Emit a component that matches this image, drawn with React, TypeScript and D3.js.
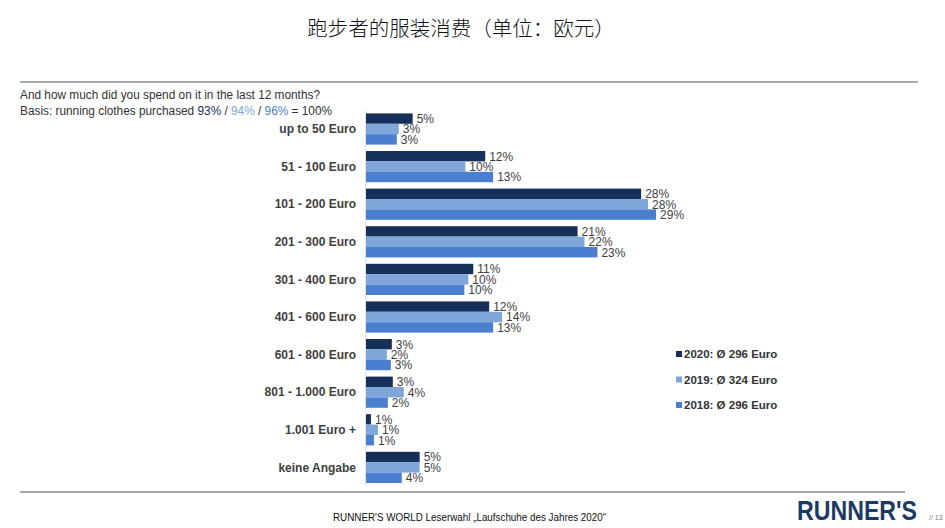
import React from "react";
import * as d3 from "d3";

const categories = [
  "up to 50 Euro",
  "51 - 100 Euro",
  "101 - 200 Euro",
  "201 - 300 Euro",
  "301 - 400 Euro",
  "401 - 600 Euro",
  "601 - 800 Euro",
  "801 - 1.000 Euro",
  "1.001 Euro +",
  "keine Angabe",
];

// shares in % (labels are rounded)
const values2020 = [4.7, 12.0, 27.7, 21.3, 10.8, 12.4, 2.6, 2.7, 0.5, 5.4];
const values2019 = [3.3, 10.0, 28.4, 22.0, 10.3, 13.7, 2.1, 3.8, 1.2, 5.4];
const values2018 = [3.1, 12.8, 29.2, 23.3, 9.9, 12.8, 2.5, 2.2, 0.8, 3.6];

const seriesNames = ["2020", "2019", "2018"];
const seriesColors = ["#17305a", "#7ea6d8", "#4a7fcf"];
const legendLabels = ["2020: Ø 296 Euro", "2019: Ø 324 Euro", "2018: Ø 296 Euro"];

const W = 945;
const H = 528;
const FONT = "'Liberation Sans', Arial, sans-serif";

export default function App() {
  const series = [values2020, values2019, values2018];

  const y = d3
    .scaleBand<string>()
    .domain(categories)
    .range([110.2, 486.2])
    .paddingInner(0.17)
    .paddingOuter(0.085);

  const ySub = d3
    .scaleBand<string>()
    .domain(seriesNames)
    .range([0, y.bandwidth()]);

  const x = d3.scaleLinear().domain([0, 30]).range([366, 664]);

  return (
    <svg
      width={W}
      height={H}
      viewBox={`0 0 ${W} ${H}`}
      style={{ position: "absolute", left: 0, top: 0, background: "#fff" }}
      fontFamily={FONT}
    >
      <text
        x={461}
        y={36}
        textAnchor="middle"
        fontSize={20.5}
        fontWeight={300}
        fill="#111"
        fontFamily="'Noto Sans CJK SC', sans-serif"
      >
        跑步者的服装消费（单位：欧元）
      </text>

      <line x1={20} x2={918} y1={82} y2={82} stroke="#555" strokeWidth={1.2} />

      <text x={20} y={99} fontSize={12.5} fill="#333" textLength={300} lengthAdjust="spacingAndGlyphs">
        And how much did you spend on it in the last 12 months?
      </text>
      <text x={20} y={115} fontSize={12.5} fill="#333" textLength={312} lengthAdjust="spacingAndGlyphs">
        Basis: running clothes purchased{" "}
        <tspan fill={seriesColors[0]}>93%</tspan> /{" "}
        <tspan fill={seriesColors[1]}>94%</tspan> /{" "}
        <tspan fill={seriesColors[2]}>96%</tspan> = 100%
      </text>

      {/* faint axis */}
      <line x1={x(0) - 0.5} x2={x(0) - 0.5} y1={110} y2={486} stroke="#e3e3e3" />

      {categories.map((c, i) => (
        <g key={c}>
          <text
            x={356}
            y={(y(c) ?? 0) + y.bandwidth() / 2}
            dy="0.35em"
            textAnchor="end"
            fontSize={12}
            fontWeight="bold"
            fill="#404040"
          >
            {c}
          </text>
          {series.map((s, k) => {
            const top = (y(c) ?? 0) + (ySub(seriesNames[k]) ?? 0);
            const h = ySub.bandwidth();
            return (
              <g key={k}>
                <rect
                  x={x(0)}
                  y={top}
                  width={x(s[i]) - x(0)}
                  height={h}
                  fill={seriesColors[k]}
                />
                <text
                  x={x(s[i]) + 4}
                  y={top + h / 2}
                  dy="0.36em"
                  fontSize={12}
                  fill="#404040"
                >
                  {Math.round(s[i])}%
                </text>
              </g>
            );
          })}
        </g>
      ))}

      {legendLabels.map((l, k) => (
        <g key={l} transform={`translate(676, ${354 + k * 25.5})`}>
          <rect x={0} y={-3} width={6} height={6} fill={seriesColors[k]} />
          <text x={8} y={0} dy="0.35em" fontSize={11.5} fontWeight="bold" fill="#333">
            {l}
          </text>
        </g>
      ))}

      <line x1={20} x2={905} y1={492} y2={492} stroke="#555" strokeWidth={1.2} />

      <text
        x={333}
        y={521}
        fontSize={10.5}
        fill="#111"
        textLength={273}
        lengthAdjust="spacingAndGlyphs"
      >
        RUNNER'S WORLD Leserwahl „Laufschuhe des Jahres 2020“
      </text>

      <text
        x={797}
        y={520}
        fontSize={28}
        fontWeight="900"
        fill="#1b3a66"
        textLength={120}
        lengthAdjust="spacingAndGlyphs"
      >
        RUNNER'S
      </text>
      <text x={929} y={520} fontSize={7} fill="#777">
        // 13
      </text>
    </svg>
  );
}
